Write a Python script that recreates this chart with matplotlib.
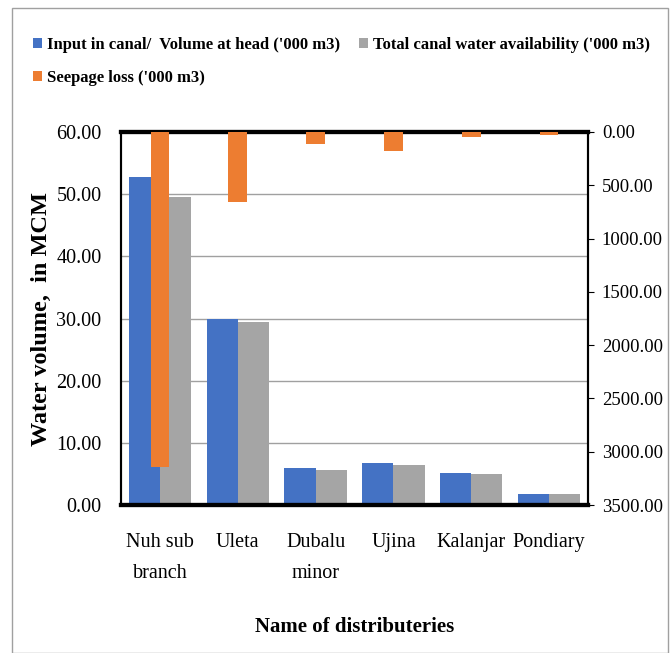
import numpy as np
import matplotlib.pyplot as plt
from matplotlib.patches import Rectangle

plt.rcParams['font.family'] = ['Liberation Serif', 'DejaVu Serif']

# data
names = ['Nuh sub\nbranch', 'Uleta', 'Dubalu\nminor', 'Ujina', 'Kalanjar', 'Pondiary']
input_head = [52.7, 30.0, 5.9, 6.7, 5.1, 1.7]
total_avail = [49.5, 29.4, 5.7, 6.5, 5.0, 1.7]
seepage = [3140, 660, 115, 180, 45, 25]

blue = '#4472C4'
grey = '#A5A5A5'
orange = '#ED7D31'

fig = plt.figure(figsize=(6.72, 6.53), dpi=100)
ax = fig.add_axes([121/672, 1-505/653, 467/672, 373/653])
x = np.arange(len(names))
w = 0.4

b1 = ax.bar(x - w/2, input_head, w, color=blue, zorder=2,
            label="Input in canal/  Volume at head ('000 m3)")
b2 = ax.bar(x + w/2, total_avail, w, color=grey, zorder=2,
            label="Total canal water availability ('000 m3)")
ax.set_ylim(0, 60)
ax.set_xlim(-0.5, len(names) - 0.5)
ax.set_yticks(np.arange(0, 61, 10))
ax.set_yticklabels(['%.2f' % v for v in np.arange(0, 61, 10)])
ax.yaxis.grid(True, color='#A0A0A0', lw=1, zorder=0)
ax.set_xticks(x)
ax.set_xticklabels(names, fontsize=14.5, linespacing=1.9)
ax.tick_params(axis='x', length=0, pad=20)
ax.tick_params(axis='y', labelsize=14.5, length=0, pad=14)
ax.set_ylabel('Water volume,  in MCM', fontsize=17.5, fontweight='bold', labelpad=3)
ax.set_xlabel('Name of distributeries', fontsize=15, fontweight='bold', labelpad=24)

ax2 = ax.twinx()
b3 = ax2.bar(x, seepage, 0.24, color=orange, zorder=3, label="Seepage loss ('000 m3)")
ax2.set_ylim(3500, 0)
ax2.set_yticks(np.arange(0, 3501, 500))
ax2.set_yticklabels(['%.2f' % v for v in np.arange(0, 3501, 500)])
ax2.tick_params(axis='y', labelsize=13.5, length=4, pad=6)

for a in (ax, ax2):
    a.spines['top'].set_linewidth(3)
    a.spines['bottom'].set_linewidth(3)
    a.spines['left'].set_linewidth(1.5)
    a.spines['right'].set_linewidth(1.5)

# column-major fill: first column gets input + seepage, second gets total
fig.legend(handles=[b1, b3, b2], loc='upper left', bbox_to_anchor=(18/672, 1-22/653),
           ncol=2, frameon=False, prop={'weight': 'bold', 'size': 12},
           handlelength=0.55, handleheight=0.55, handletextpad=0.3, columnspacing=1.1,
           labelspacing=1.0)

fig.add_artist(Rectangle((12/672, 0), 656/672, 1-8/653, transform=fig.transFigure,
                         fill=False, edgecolor='#A0A0A0', lw=1))

fig.savefig('out.png', dpi=100)
